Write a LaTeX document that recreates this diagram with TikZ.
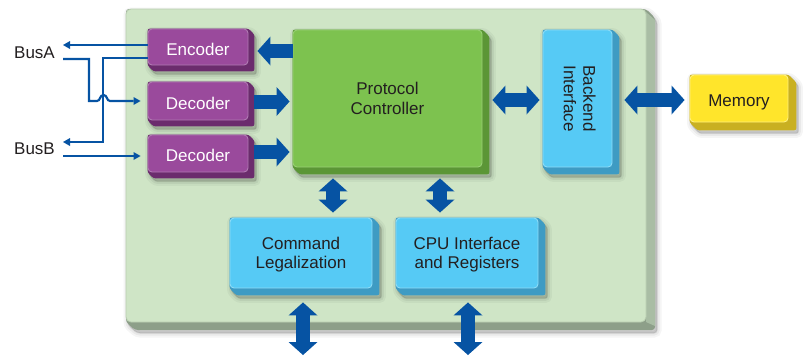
\documentclass[tikz,border=0pt]{standalone}
\usepackage{fontspec}
\setmainfont{Liberation Sans}
\usetikzlibrary{arrows.meta}
\pgfdeclarelayer{bg}
\pgfdeclarelayer{ext}
\pgfsetlayers{bg,ext,main}
\definecolor{panelF}{HTML}{CFE5C6}
\definecolor{panelL}{HTML}{B9CEB1}
\definecolor{panelR}{HTML}{A9BDA4}
\definecolor{panelB}{HTML}{8D9F89}
\definecolor{purF}{HTML}{9A4A9C}
\definecolor{purE}{HTML}{6B2C6D}
\definecolor{purH}{HTML}{B07AB2}
\definecolor{grnF}{HTML}{7DC24F}
\definecolor{grnE}{HTML}{5B9636}
\definecolor{grnH}{HTML}{98CF74}
\definecolor{bluF}{HTML}{56CAF5}
\definecolor{bluE}{HTML}{3E9BC3}
\definecolor{bluH}{HTML}{8CDBF7}
\definecolor{yelF}{HTML}{FFE52B}
\definecolor{yelE}{HTML}{C9B021}
\definecolor{yelH}{HTML}{FFF07F}
\definecolor{arr}{HTML}{0653A3}
\definecolor{txt}{HTML}{231F20}
\tikzset{
  shd/.style={line join=round,
    preaction={fill=black,draw=black,opacity=0.04,line width=9pt,transform canvas={shift={(2pt,-3pt)}}},
    preaction={fill=black,draw=black,opacity=0.05,line width=5pt,transform canvas={shift={(2pt,-3pt)}}},
    preaction={fill=black,draw=black,opacity=0.07,line width=1.5pt,transform canvas={shift={(2pt,-3pt)}}}}
}
\newcommand\boxext[3]{%
  \begin{pgfonlayer}{ext}
    \fill[#2,rounded corners=2.5pt,shd]
      (#1.north west) -- (#1.north east) -- ([shift={(#3,-#3)}]#1.north east)
      -- ([shift={(#3,-#3)}]#1.south east) -- ([shift={(#3,-#3)}]#1.south west)
      -- (#1.south west) -- cycle;
  \end{pgfonlayer}}
\begin{document}
\begin{tikzpicture}[x=1pt,y=-1pt,
  blk/.style={rounded corners=4pt,inner sep=0pt,line width=0.9pt,text=txt,align=center,font=\fontsize{17}{19.5}\selectfont},
  tw/.style={text depth=0pt,execute at begin node={\rule{0pt}{16pt}}},
  purp/.style={blk,tw,fill=purF,draw=purH,text=white},
  grn/.style={blk,tw,fill=grnF,draw=grnH},
  blu/.style={blk,tw,fill=bluF,draw=bluH},
  bluv/.style={blk,fill=bluF,draw=bluH},
  yel/.style={blk,tw,fill=yelF,draw=yelH},
  fat/.style={draw=arr,line width=14pt},
  fattip/.style={fat,arrows={-Triangle[length=13pt,width=29pt,line width=0pt]}},
  fatboth/.style={fat,arrows={Triangle[length=13pt,width=29pt,line width=0pt]-Triangle[length=13pt,width=29pt,line width=0pt]}},
  bus/.style={draw=arr,line width=2.2pt,arrows={-Triangle[length=7pt,width=8pt,line width=0pt]}},
  lbl/.style={inner sep=0pt,text=txt,font=\fontsize{17}{19.5}\selectfont}]
\useasboundingbox (0,0) rectangle (804,357);
% panel
\begin{pgfonlayer}{bg}
  \fill[panelB,rounded corners=3pt,shd]
    (126,9) -- (646,9) -- (655,18) -- (655,330) -- (135,330) -- (126,322) -- cycle;
  \fill[panelR] (646,12) -- (655,20) -- (655,326) -- (646,322) -- cycle;
  \fill[panelF,draw=panelL,line width=0.8pt,rounded corners=5pt] (126,9) rectangle (646,322);
\end{pgfonlayer}
% blocks
\node[purp,minimum width=100pt,minimum height=36pt] (Enc) at (198,47) {Encoder};
\boxext{Enc}{purE}{6pt}
\node[purp,minimum width=100pt,minimum height=38pt] (Dec1) at (198,101) {Decoder};
\boxext{Dec1}{purE}{6pt}
\node[purp,minimum width=100pt,minimum height=37pt] (Dec2) at (198,153.5) {Decoder};
\boxext{Dec2}{purE}{6pt}
\node[grn,minimum width=189pt,minimum height=137pt] (PC) at (387.5,98.5) {Protocol\\Controller};
\boxext{PC}{grnE}{7pt}
\node[bluv,minimum width=69pt,minimum height=137pt] (BI) at (577.5,98.5)
  {\rotatebox{-90}{\begin{tabular}{@{}c@{}}Backend\\Interface\end{tabular}}};
\boxext{BI}{bluE}{7pt}
\node[yel,minimum width=98pt,minimum height=47pt] (Mem) at (739,98.5) {Memory};
\boxext{Mem}{yelE}{8pt}
\node[blu,minimum width=142pt,minimum height=70pt] (Cmd) at (301,253) {Command\\Legalization};
\boxext{Cmd}{bluE}{7pt}
\node[blu,minimum width=142pt,minimum height=70pt] (CPU) at (467,253) {CPU Interface\\and Registers};
\boxext{CPU}{bluE}{7pt}
% bus labels
\node[lbl,anchor=east] (BusA) at (55,52.5) {BusA};
\node[lbl,anchor=east] (BusB) at (55,149) {BusB};
\coordinate (aout) at (63,45);
\coordinate (ain) at (63,59);
\coordinate (bout) at (63,142);
\coordinate (bin) at (63,156);
% thin bus lines
\draw[bus] (Enc.west |- aout) -- (aout);
\draw[bus] ([yshift=-11pt]Enc.west) -- (103,58) -- (103,142) -- (bout);
\draw[bus,shorten >=7pt] (ain) -- (89,59) -- (89,101) -- (97,101)
  .. controls (100.5,101) and (99.5,95) .. (103.5,95)
  .. controls (107.5,95) and (106.5,101) .. (110,101) -- (Dec1.west);
\draw[bus,shorten >=7pt] (bin) -- (Dec2.west |- bin);
% fat arrows
\draw[fattip] ([yshift=-4pt]PC.west |- Enc.east) -- ([xshift=9pt,yshift=-4pt]Enc.east);
\draw[fattip,shorten >=3pt] ([xshift=6pt,yshift=-0.5pt]Dec1.east) -- ([yshift=-0.5pt]PC.west |- Dec1.east);
\draw[fattip,shorten >=3pt] ([xshift=6pt,yshift=1.5pt]Dec2.east) -- ([yshift=1.5pt]PC.west |- Dec2.east);
\draw[fatboth] ([xshift=10pt,yshift=-1.5pt]PC.east) -- ([xshift=-3pt,yshift=-1.5pt]BI.west);
\draw[fatboth] ([xshift=12pt,yshift=-1.5pt]BI.east) -- ([xshift=-5pt,yshift=-1.5pt]Mem.west);
\draw[fatboth] ([xshift=-54.5pt,yshift=-11pt]PC.south) -- ([xshift=32pt,yshift=5pt]Cmd.north);
\draw[fatboth] ([xshift=52.5pt,yshift=-11pt]PC.south) -- ([xshift=-27pt,yshift=5pt]CPU.north);
\coordinate (cmdout) at (303,355);
\coordinate (cpuout) at (468,355);
\draw[fatboth] ([xshift=2pt,yshift=-14pt]Cmd.south) -- (cmdout);
\draw[fatboth] ([xshift=1pt,yshift=-14pt]CPU.south) -- (cpuout);
\end{tikzpicture}
\end{document}
